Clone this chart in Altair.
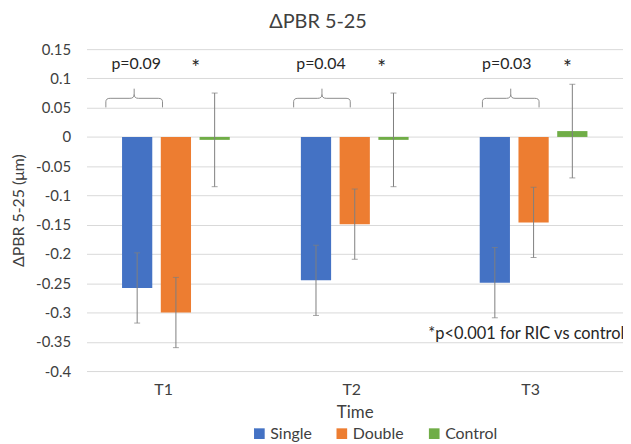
import altair as alt
import pandas as pd

# ---- data ----
times = ["T1", "T2", "T3"]
series = ["Single", "Double", "Control"]
single_vals = [-0.258, -0.245, -0.249]
double_vals = [-0.300, -0.149, -0.146]
control_vals = [-0.005, -0.005, 0.010]
single_err = [0.060, 0.060, 0.060]
double_err = [0.060, 0.060, 0.060]
control_err = [0.080, 0.080, 0.080]
p_labels = ["p=0.09", "p=0.04", "p=0.03"]
star_labels = ["*", "*", "*"]
footnote = "*p<0.001 for RIC vs control"
y_ticks = [0.15, 0.1, 0.05, 0.0, -0.05, -0.1, -0.15, -0.2, -0.25, -0.3, -0.35, -0.4]
chart_title = "ΔPBR 5-25"
y_title = "ΔPBR 5-25 (μm)"
x_title = "Time"

# ---- styling ----
colors = ["#4472C4", "#ED7D31", "#70AD47"]
FONT = "Lato"
TXT = "#404040"
ERR = "#7f7f7f"
W, H = 540, 324
p_dx = [-40, -34, -27]
star_dx = [20, 27, 34]
brace_dx = [-42, -33, -23]

rows = []
for s, vals, errs in zip(series, [single_vals, double_vals, control_vals],
                         [single_err, double_err, control_err]):
    for t, v, e in zip(times, vals, errs):
        rows.append({"time": t, "series": s, "value": v, "lo": v - e, "hi": v + e})
df = pd.DataFrame(rows)

xscale = alt.Scale(domain=times, paddingInner=0.35, paddingOuter=0.175)
offscale = alt.Scale(domain=series, paddingInner=0.22, paddingOuter=0.11)
yscale = alt.Scale(domain=[-0.4, 0.15], nice=False, zero=False)

xaxis = alt.Axis(title=x_title, labelAngle=0, ticks=False, domain=False,
                 grid=False, labelPadding=11, titlePadding=7,
                 labelAlign={"condition": {"test": "datum.value === 'T1'", "value": "right"},
                             "value": "center"},
                 labelOffset=-3,
                 labelFontSize=16, titleFontSize=17, labelColor=TXT,
                 titleColor=TXT, titleFontWeight="normal", labelFont=FONT,
                 titleFont=FONT)
yaxis = alt.Axis(title=y_title, values=y_ticks,
                 labelExpr="replace(format(datum.value, '.2~f'), '\u2212', '-')",
                 ticks=False, domain=False, grid=True, gridColor="#d9d9d9",
                 labelPadding=16, titlePadding=9, labelFontSize=15,
                 titleFontSize=16, labelColor=TXT, titleColor=TXT,
                 titleFontWeight="normal", labelFont=FONT, titleFont=FONT)

xenc = alt.X("time:N", scale=xscale, sort=times, axis=xaxis)
offenc = alt.XOffset("series:N", scale=offscale, sort=series)

base = alt.Chart(df).encode(x=xenc, xOffset=offenc)

bars = base.mark_bar().encode(
    y=alt.Y("value:Q", scale=yscale, axis=yaxis),
    y2=alt.datum(0),
    color=alt.Color("series:N", sort=series,
                    scale=alt.Scale(domain=series, range=colors),
                    legend=alt.Legend(title=None, orient="none", direction="horizontal",
                                      legendX=166, legendY=379, symbolType="square",
                                      symbolSize=115, symbolStrokeWidth=0,
                                      labelFontSize=16, labelFont=FONT, labelColor=TXT,
                                      columnPadding=22, labelOffset=3)),
)

err_rule = base.mark_rule(color=ERR, strokeWidth=1).encode(
    y=alt.Y("lo:Q", scale=yscale, axis=yaxis), y2="hi:Q")
cap_lo = base.mark_tick(color=ERR, thickness=1, size=6).encode(
    y=alt.Y("lo:Q", scale=yscale, axis=yaxis))
cap_hi = base.mark_tick(color=ERR, thickness=1, size=6).encode(
    y=alt.Y("hi:Q", scale=yscale, axis=yaxis))

layers = [bars, err_rule, cap_lo, cap_hi]

unit = 28.5  # half-width of brace in px (size = (2*unit)^2)
for i, t in enumerate(times):
    o = brace_dx[i] / unit
    def px(v):
        return f"{v + o:.3f}"
    path = (f"M {px(-1)} 0.32 L {px(-1)} 0.12 Q {px(-1)} 0 {px(-0.85)} 0 "
            f"L {px(-0.15)} 0 Q {px(0)} 0 {px(0)} -0.14 L {px(0)} -0.34 "
            f"M {px(0)} -0.14 Q {px(0)} 0 {px(0.15)} 0 L {px(0.85)} 0 "
            f"Q {px(1)} 0 {px(1)} 0.12 L {px(1)} 0.32")
    brace = alt.Chart(pd.DataFrame({"k": [t]})).mark_point(
        shape=path, size=(2 * unit) ** 2, filled=False, color="#8c8c8c",
        strokeWidth=1, opacity=1
    ).encode(x=alt.X(datum=t, scale=xscale, axis=xaxis),
             y=alt.Y(datum=0.066, scale=yscale, axis=yaxis))
    ptxt = alt.Chart(pd.DataFrame({"label": [p_labels[i]]})).mark_text(
        dx=p_dx[i], fontSize=16, font=FONT, color="#262626", baseline="middle"
    ).encode(x=alt.X(datum=t, scale=xscale, axis=xaxis),
             y=alt.Y(datum=0.125, scale=yscale, axis=yaxis), text="label:N")
    star = alt.Chart(pd.DataFrame({"label": [star_labels[i]]})).mark_text(
        dx=star_dx[i], dy=5, fontSize=21, font=FONT, color="#262626", baseline="middle"
    ).encode(x=alt.X(datum=t, scale=xscale, axis=xaxis),
             y=alt.Y(datum=0.125, scale=yscale, axis=yaxis), text="label:N")
    layers += [brace, ptxt, star]

foot = alt.Chart(pd.DataFrame({"label": [footnote]})).mark_text(
    dx=-106, align="left", fontSize=16.5, font=FONT, color="#262626", baseline="middle"
).encode(x=alt.X(datum=times[2], scale=xscale, axis=xaxis),
         y=alt.Y(datum=-0.337, scale=yscale, axis=yaxis), text="label:N")
layers.append(foot)

chart = alt.layer(*layers).properties(
    width=W, height=H,
    title=alt.TitleParams(chart_title, fontSize=20, fontWeight="normal", font=FONT,
                          color=TXT, anchor="middle", frame="bounds", offset=10),
    autosize=alt.AutoSizeParams(type="none"),
    padding={"left": 79, "top": 40, "right": 0, "bottom": 72},
).configure(font=FONT).configure_view(stroke=None)

chart.save("out.html", embed_options={"renderer": "svg", "actions": False})
